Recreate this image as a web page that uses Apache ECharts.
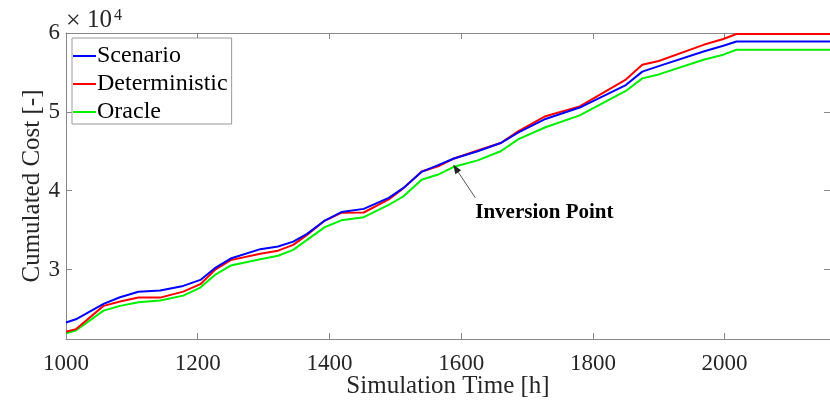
<!DOCTYPE html>
<html>
<head>
<meta charset="utf-8">
<script src="https://cdn.jsdelivr.net/npm/echarts@6/dist/echarts.min.js"></script>
<style>
  html, body { margin: 0; padding: 0; background: #fff; }
  #chart { width: 830px; height: 401px; }
</style>
</head>
<body>
<div id="chart"></div>
<script>
// 时间节点 (h)
const hours = [1000, 1015, 1057, 1082, 1110, 1143, 1178, 1204, 1226, 1250, 1295, 1322, 1345, 1366, 1393, 1418, 1452, 1490, 1512, 1540, 1565, 1588, 1625, 1660, 1687, 1728, 1780, 1850, 1875, 1900, 1968, 1998, 2018, 2160]
// 三条累计成本曲线
const scenario = [23300, 23700, 25650, 26500, 27200, 27340, 27930, 28690, 30180, 31400, 32590, 32920, 33550, 34530, 36220, 37300, 37700, 39100, 40330, 42400, 43250, 44050, 45000, 46050, 47400, 49100, 50550, 53400, 55100, 55800, 57650, 58380, 58930, 58930]
const deterministic = [22130, 22450, 25400, 25950, 26450, 26450, 27210, 28150, 29960, 31200, 32000, 32400, 33130, 34400, 36220, 37200, 37240, 38900, 40300, 42440, 43100, 44050, 45100, 46050, 47550, 49450, 50700, 54100, 55980, 56450, 58500, 59240, 59870, 59870]
const oracle = [21930, 22280, 24800, 25400, 25850, 26070, 26700, 27720, 29330, 30510, 31300, 31760, 32500, 33770, 35380, 36250, 36650, 38200, 39270, 41400, 42050, 43000, 43850, 45000, 46550, 48050, 49550, 52650, 54250, 54750, 56610, 57250, 57880, 57880]
const seriesNames = ['Scenario', 'Deterministic', 'Oracle']
const xTicks = [1000, 1200, 1400, 1600, 1800, 2000]
const yTicks = [30000, 40000, 50000, 60000]
const inversionPoint = [1588, 43300] // 箭头指向的位置

const font = 'Liberation Serif'
const axisColor = '#888'

const toPairs = (ys) => hours.map((h, i) => [h, ys[i]])

let myChart = echarts.init(document.getElementById('chart'))

const tickAxis = (ticks, extra) => Object.assign({
  type: 'value',
  axisLine: { show: true, lineStyle: { color: axisColor, width: 1 } },
  axisTick: { show: true, inside: true, length: 6, customValues: ticks, lineStyle: { color: axisColor } },
  axisLabel: { show: false },
  splitLine: { show: false },
}, extra)

let option = {
  animation: false,
  grid: { left: 66, right: 0, top: 33, bottom: 62, outerBoundsMode: 'none' },
  xAxis: [
    tickAxis(xTicks, {
      min: 1000, max: 2160,
      name: 'Simulation Time [h]',
      nameLocation: 'middle', nameGap: 35, nameMoveOverlap: false,
      nameTextStyle: { fontFamily: font, fontSize: 25, color: '#262626' },
      axisLabel: { customValues: xTicks, formatter: (v) => String(v), fontFamily: font, fontSize: 23, color: '#262626', margin: 13 },
    }),
    tickAxis(xTicks, { position: 'top', min: 1000, max: 2160 }),
  ],
  yAxis: [
    tickAxis(yTicks, {
      min: 21200, max: 60000,
      name: 'Cumulated Cost [-]',
      nameLocation: 'middle', nameGap: 21, nameMoveOverlap: false,
      nameTextStyle: { fontFamily: font, fontSize: 25, color: '#262626' },
      axisLabel: { customValues: yTicks, formatter: (v) => String(v / 10000), fontFamily: font, fontSize: 23, color: '#262626', margin: 6 },
    }),
    tickAxis(yTicks, { position: 'right', min: 21200, max: 60000 }),
  ],
  legend: {
    orient: 'vertical',
    left: 72, top: 38,
    padding: [6, 4, 0, 1],
    itemGap: 4,
    itemWidth: 23, itemHeight: 2,
    icon: 'rect',
    backgroundColor: '#fff',
    borderColor: '#999', borderWidth: 1, borderRadius: 0,
    textStyle: { fontFamily: font, fontSize: 24, color: '#000', lineHeight: 24, padding: [0, 0, 0, -4] },
    data: seriesNames,
  },
  series: [
    { name: seriesNames[0], data: toPairs(scenario), color: '#0000ff' },
    { name: seriesNames[1], data: toPairs(deterministic), color: '#ff0000' },
    { name: seriesNames[2], data: toPairs(oracle), color: '#00ee00' },
  ].map(s => Object.assign({
    type: 'line', symbol: 'none', z: 3,
    lineStyle: { width: 2, color: s.color },
    itemStyle: { color: s.color },
  }, s)).reverse(),
}
myChart.setOption(option)

// 注释: 箭头 + Inversion Point
const head = myChart.convertToPixel({ gridIndex: 0 }, inversionPoint)
const tail = [head[0] + 22, head[1] + 33]
const ang = Math.atan2(head[1] - tail[1], head[0] - tail[0])
const aL = 9, aW = 3.5
const base = [head[0] - aL * Math.cos(ang), head[1] - aL * Math.sin(ang)]
const p1 = [base[0] + aW * Math.sin(ang), base[1] - aW * Math.cos(ang)]
const p2 = [base[0] - aW * Math.sin(ang), base[1] + aW * Math.cos(ang)]

myChart.setOption({
  graphic: [
    { type: 'line', shape: { x1: tail[0], y1: tail[1], x2: base[0], y2: base[1] }, style: { stroke: '#555', lineWidth: 1 }, z: 10 },
    { type: 'polygon', shape: { points: [head, p1, p2] }, style: { fill: '#222' }, z: 10 },
    { type: 'text', x: tail[0], y: tail[1] + 15, style: { text: 'Inversion Point', font: 'bold 21px "Liberation Serif"', fill: '#000', verticalAlign: 'middle' }, z: 10 },
    // 指数标记 ×10^4
    { type: 'text', x: 66, y: 21, style: { text: '×', font: '26px "Liberation Serif"', fill: '#262626', verticalAlign: 'middle' } },
    { type: 'text', x: 87, y: 20.5, style: { text: '10', font: '25px "Liberation Serif"', fill: '#262626', verticalAlign: 'middle' } },
    { type: 'text', x: 114, y: 15.5, style: { text: '4', font: '16px "Liberation Serif"', fill: '#262626', verticalAlign: 'middle' } },
  ],
})
</script>
</body>
</html>
